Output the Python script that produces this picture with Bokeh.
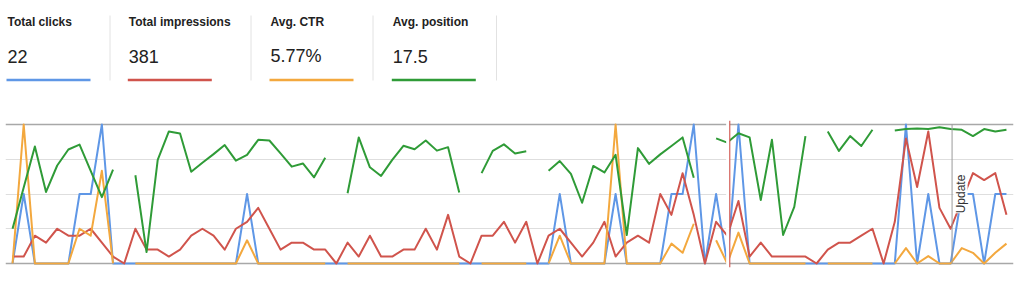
import math
from bokeh.plotting import figure
from bokeh.models import Range1d, FixedTicker, Grid, Span, Label, BoxAnnotation, ColumnDataSource
from bokeh.layouts import column
from bokeh.embed import file_html
from bokeh.resources import INLINE
from bokeh.core.properties import value

nan = float("nan")

# ---------------- data ----------------
metric_titles = ["Total clicks", "Total impressions", "Avg. CTR", "Avg. position"]
metric_values = ["22", "381", "5.77%", "17.5"]

days = list(range(90))

clicks = [0, 1, 0, 0, 0, 0, 1, 1, 2, 0,
          0, 0, 0, 0, 0, 0, 0, 0, 0, 0,
          0, 1, 0, 0, 0, 0, 0, 0, 0, 0,
          0, 0, 0, 0, 0, 0, 0, 0, 0, 0,
          0, 0, 0, 0, 0, 0, 0, 0, 0, 1,
          0, 0, 0, 0, 1, 0, 0, 0, 0, 1,
          1, 2, 0, 1, 0, 2, 0, 0, 0, 0,
          0, 0, 0, 0, 0, 0, 0, 0, 0, 0,
          2, 0, 1, 0, 0, 1, 1, 0, 1, 1]

impressions = [1, 1, 4, 3, 5, 4, 4, 5, 3, 1,
               0, 5, 2, 2, 1, 2, 4, 5, 4, 2,
               5, 6, 8, 5, 2, 3, 3, 2, 2, 0,
               3, 1, 4, 1, 1, 2, 2, 5, 2, 7,
               1, 0, 4, 4, 6, 3, 6, 0, 4, 5,
               3, 1, 3, 6, 1, 3, 4, 3, 10, 7,
               13, 7, 0, 6, 4, 9, 1, 3, 1, 1,
               1, 1, 0, 2, 3, 3, 4, 5, 0, 6,
               18, 11, 19, 8, 5, 9, 13, 12, 13, 7]

ctr = [0, 100, 0, 0, 0, 0, 25, 20, 66.7, 0,
       nan, 0, 0, 0, 0, 0, 0, 0, 0, 0,
       0, 16.7, 0, 0, 0, 0, 0, 0, 0, nan,
       0, 0, 0, 0, 0, 0, 0, 0, 0, 0,
       0, nan, 0, 0, 0, 0, 0, nan, 0, 20,
       0, 0, 0, 0, 100, 0, 0, 0, 0, 14.3,
       7.7, 28.6, nan, 16.7, 0, 22.2, 0, 0, 0, 0,
       0, 0, nan, 0, 0, 0, 0, 0, nan, 0,
       11.1, 0, 5.3, 0, 0, 11.1, 7.7, 0, 7.7, 14.3]

position = [75, 45.3, 15.8, 48.5, 29.5, 18, 14.5, 33.3, 52.3, 32.5,
            nan, 36.5, 91.8, 25.5, 5, 6.5, 34, 27.5, 21.3, 14.8,
            26, 21.8, 11, 11.5, 20.8, 30.3, 28, 38, 24, nan,
            49.5, 9.3, 30.8, 37, 25.5, 15.3, 17.8, 11.5, 18.8, 16.3,
            49, nan, 35, 19, 14.3, 20.8, 19.3, nan, 33.3, 26.3,
            35.5, 56.3, 29.8, 34.5, 21.8, 79.5, 17, 28.3, 21.5, 15.5,
            9.3, 38.3, nan, 10, 13, 6.3, 9.3, 54.3, 11, 79.5,
            59.3, 8.3, nan, 5, 19, 8.3, 15.5, 3.8, nan, 4.3,
            3.3, 2.8, 3.3, 2, 3.3, 3.8, 8.3, 3.3, 5, 3.8]

update_day = 84.13
update_text = "Update"
break_day = 64.22

# ---------------- styles ----------------
BLUE = "#5f97e6"
RED = "#d0544c"
ORANGE = "#f3a83e"
GREEN = "#2f9b37"
metric_colors = [BLUE, RED, ORANGE, GREEN]
FONT = "Liberation Sans"

W = 1024
BL, BR = 5, 11  # shared frame borders so column alignment is exact

# ---------------- header ----------------
hdr = figure(width=W, height=95, x_range=Range1d(BL, W - BR), y_range=Range1d(95, 0),
             output_backend="svg", toolbar_location=None,
             x_axis_location=None, y_axis_location=None,
             min_border_left=BL, min_border_right=BR,
             min_border_top=0, min_border_bottom=0)
hdr.outline_line_color = None
hdr.xgrid.visible = False
hdr.ygrid.visible = False

card_x = [7, 128.3, 270, 392.3]
hsrc = ColumnDataSource(dict(
    x=card_x, title=metric_titles, val=metric_values, color=metric_colors,
    ux0=[cx - 1 for cx in card_x], ux1=[cx + 83 for cx in card_x],
))
hdr.text(x="x", y=21.5, text="title", source=hsrc, text_font=value(FONT),
         text_font_style="bold", text_font_size="12px", text_color="#222222",
         text_baseline="alphabetic", text_align="left")
hdr.text(x="x", y=55.5, text="val", source=hsrc, text_font=value(FONT),
         text_font_size="18px", text_color="#222222",
         text_baseline="alphabetic", text_align="left")
hdr.segment(x0="ux0", y0=79.5, x1="ux1", y1=79.5, source=hsrc,
            line_color="color", line_width=2.6)
sep_x = [109.5, 250.5, 372.5, 496]
hdr.segment(x0=sep_x, y0=[15] * 4, x1=sep_x, y1=[80] * 4,
            line_color="#e2e2e2", line_width=1)

# ---------------- chart ----------------
pad = 4 / 139 * 4  # in grid units
p = figure(width=W, height=190,
           x_range=Range1d(-0.63, 89.63),
           y_range=Range1d(-pad * 5, 20 + pad * 5),
           output_backend="svg", toolbar_location=None,
           x_axis_location=None, y_axis_location=None,
           min_border_left=BL, min_border_right=BR,
           min_border_top=25, min_border_bottom=18)
p.outline_line_color = None
p.xgrid.visible = False
p.ygrid.visible = False
p.extra_y_ranges = {
    "clicks": Range1d(-pad / 2, 2 + pad / 2),
    "ctr": Range1d(-pad * 25, 100 + pad * 25),
    "pos": Range1d(100 + pad * 25, -pad * 25),
}

p.add_layout(Grid(dimension=1, ticker=FixedTicker(ticks=[5, 10, 15]),
                  grid_line_color="#dedede", grid_line_width=1))
p.add_layout(Grid(dimension=1, ticker=FixedTicker(ticks=[0, 20]),
                  grid_line_color="#a8a8a8", grid_line_width=1.5))

src = ColumnDataSource(dict(day=days, clicks=clicks, impressions=impressions,
                            ctr=ctr, position=position))
p.line("day", "clicks", source=src, y_range_name="clicks", line_color=BLUE,
       line_width=2, line_join="round")
p.line("day", "impressions", source=src, line_color=RED, line_width=2,
       line_join="round")
p.line("day", "ctr", source=src, y_range_name="ctr", line_color=ORANGE,
       line_width=2, line_join="round")
p.line("day", "position", source=src, y_range_name="pos", line_color=GREEN,
       line_width=2, line_join="round")

# stitched break with red marker line
p.add_layout(BoxAnnotation(left=63.9, right=break_day, fill_color="white",
                           fill_alpha=1, line_alpha=0))
p.add_layout(Span(location=break_day, dimension="height", line_color=RED,
                  line_width=1.3, line_alpha=0.85))

# Update annotation
p.segment(x0=[update_day], y0=[0], x1=[update_day], y1=[20],
          line_color="#9a9a9a", line_width=1)
p.add_layout(Label(x=update_day, y=10, x_offset=1.5, text=update_text,
                   angle=math.pi / 2, text_align="center", text_baseline="top",
                   text_font=FONT, text_font_size="12px", text_color="#333333",
                   background_fill_color="white", background_fill_alpha=1))

layout = column(hdr, p, spacing=0)
open("out.html", "w").write(file_html(layout, INLINE))
